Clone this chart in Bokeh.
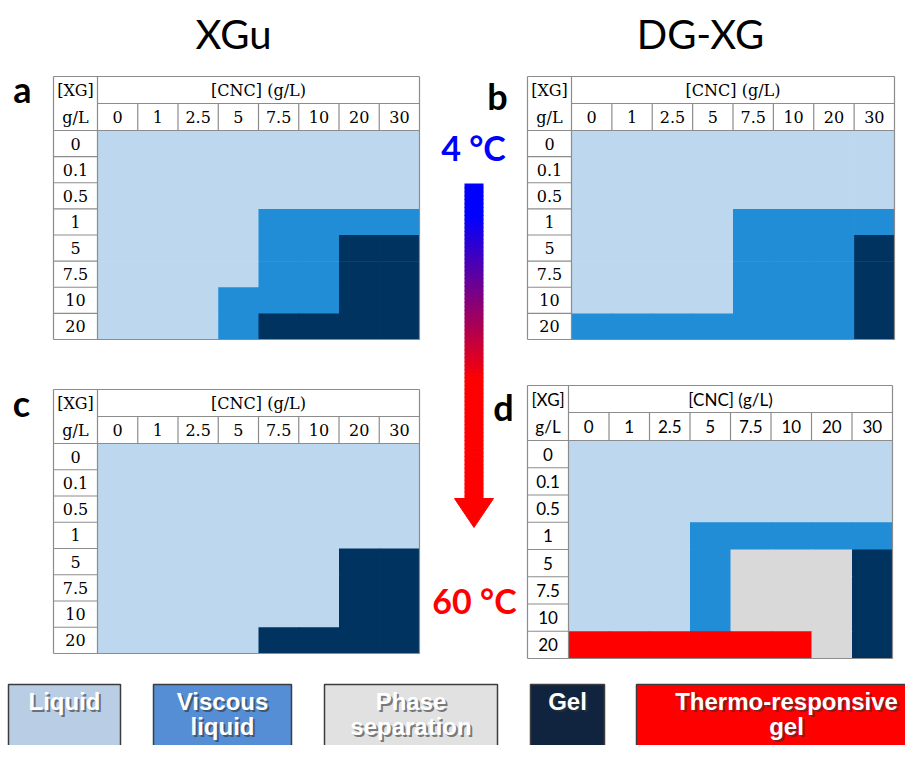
from bokeh.plotting import figure
from bokeh.models import Range1d
from bokeh.core.properties import value
from bokeh.embed import file_html
from bokeh.resources import INLINE

# ---------------- data ----------------
cnc_labels = ["0", "1", "2.5", "5", "7.5", "10", "20", "30"]
xg_labels = ["0", "0.1", "0.5", "1", "5", "7.5", "10", "20"]

# state codes per cell (rows = [XG], columns = [CNC])
# L liquid, V viscous liquid, P phase separation, G gel, T thermo-responsive gel
xgu_4C = ["LLLLLLLL", "LLLLLLLL", "LLLLLLLL", "LLLLVVVV",
          "LLLLVVGG", "LLLLVVGG", "LLLVVVGG", "LLLVGGGG"]
dgxg_4C = ["LLLLLLLL", "LLLLLLLL", "LLLLLLLL", "LLLLVVVV",
           "LLLLVVVG", "LLLLVVVG", "LLLLVVVG", "VVVVVVVG"]
xgu_60C = ["LLLLLLLL", "LLLLLLLL", "LLLLLLLL", "LLLLLLLL",
           "LLLLLLGG", "LLLLLLGG", "LLLLLLGG", "LLLLGGGG"]
dgxg_60C = ["LLLLLLLL", "LLLLLLLL", "LLLLLLLL", "LLLVVVVV",
            "LLLVPPPG", "LLLVPPPG", "LLLVPPPG", "TTTTTTPG"]

legend_codes = ["L", "V", "P", "G", "T"]
legend_lines = [["Liquid"], ["Viscous", "liquid"], ["Phase", "separation"],
                ["Gel"], ["Thermo-responsive", "gel"]]

titles = ["XGu", "DG-XG"]
temps = ["4 °C", "60 °C"]

# ---------------- styles ----------------
cell_colors = {"L": "#BDD7EE", "V": "#208DD6", "P": "#D9D9D9", "G": "#00335F", "T": "#FF0000"}
legend_colors = {"L": "#B9CDE5", "V": "#558ED5", "P": "#E1E1E1", "G": "#10243F", "T": "#FF0000"}
grid_color = "#8C8C8C"

# panel geometry: left, colstart, right, top, h1, h2, bottom
panels = [
    ("a", xgu_4C, (53, 97, 419, 76, 103, 130, 339), "DejaVu Serif", "16px", (22, 88)),
    ("b", dgxg_4C, (527, 571, 894, 76, 103, 130, 339), "DejaVu Serif", "16px", (497, 95)),
    ("c", xgu_60C, (53, 97, 419, 389, 416, 443, 653), "DejaVu Serif", "16px", (21, 402)),
    ("d", dgxg_60C, (527, 568, 892, 385, 412, 440, 658), "Lato", "17px", (503, 406)),
]

W, H = 905, 745
p = figure(width=W, height=H, output_backend="svg", toolbar_location=None,
           x_range=Range1d(0, W), y_range=Range1d(H, 0),
           x_axis_type=None, y_axis_type=None, min_border=0)
p.outline_line_color = None
p.background_fill_color = "white"
p.border_fill_color = "white"

# titles
p.text(x=[233, 700], y=[33, 33], text=titles, text_font=value("Lato"),
       text_font_size="40px", text_align="center", text_baseline="middle", text_color="black")

for letter, states, geo, font, fsize, lpos in panels:
    left, cs, right, top, h1, h2, bottom = geo
    nc, nr = len(cnc_labels), len(xg_labels)
    cw = (right - cs) / nc
    rh = (bottom - h2) / nr
    # data cells (slightly overlapping to avoid seams)
    xs0, xs1, ys0, ys1, cols = [], [], [], [], []
    for i, row in enumerate(states):
        for j, code in enumerate(row):
            xs0.append(cs + j * cw)
            xs1.append(min(right, cs + (j + 1) * cw + 0.7))
            ys0.append(h2 + i * rh)
            ys1.append(min(bottom, h2 + (i + 1) * rh + 0.7))
            cols.append(cell_colors[code])
    p.quad(left=xs0, right=xs1, top=ys0, bottom=ys1, fill_color=cols, line_color=None)

    # grid lines
    sx0, sy0, sx1, sy1 = [], [], [], []
    def seg(a, b, c, d):
        sx0.append(a); sy0.append(b); sx1.append(c); sy1.append(d)
    seg(left, top, right, top)
    seg(left, bottom, right, bottom)
    seg(left, top, left, bottom)
    seg(right, top, right, bottom)
    seg(cs, top, cs, bottom)
    seg(cs, h1, right, h1)
    seg(left, h2, right, h2)
    for j in range(1, nc):
        seg(cs + j * cw, h1, cs + j * cw, h2)
    for i in range(1, nr):
        seg(left, h2 + i * rh, cs, h2 + i * rh)
    p.segment(x0=sx0, y0=sy0, x1=sx1, y1=sy1, line_color=grid_color, line_width=1.2)

    # texts
    tx, ty, tt = [], [], []
    tx += [(left + cs) / 2, (left + cs) / 2, (cs + right) / 2]
    ty += [(top + h1) / 2, (h1 + h2) / 2, (top + h1) / 2]
    tt += ["[XG]", "g/L", "[CNC] (g/L)"]
    for j, lab in enumerate(cnc_labels):
        tx.append(cs + (j + 0.5) * cw); ty.append((h1 + h2) / 2); tt.append(lab)
    for i, lab in enumerate(xg_labels):
        tx.append((left + cs) / 2); ty.append(h2 + (i + 0.5) * rh); tt.append(lab)
    p.text(x=tx, y=ty, text=tt, text_font=value(font), text_font_size=fsize,
           text_align="center", text_baseline="middle", text_color="black")

    # panel letter
    p.text(x=[lpos[0]], y=[lpos[1]], text=[letter], text_font=value("Lato"),
           text_font_style="bold", text_font_size="36px", text_align="center",
           text_baseline="middle", text_color="black")

# temperature labels
p.text(x=[473, 474], y=[147, 600], text=temps, text_font=value("Lato"),
       text_font_style="bold", text_font_size="34px", text_align="center",
       text_baseline="middle", text_color=["#0000FF", "#FF0000"])

# gradient arrow
def mix(t):
    r = int(round(255 * t)); b = int(round(255 * (1 - t)))
    return "#%02X00%02X" % (r, b)

y_top, y_end = 183, 499
n = 80
gx0, gx1, gy0, gy1, gc = [], [], [], [], []
for k in range(n):
    a = y_top + (y_end - y_top) * k / n
    b = y_top + (y_end - y_top) * (k + 1) / n
    m = (a + b) / 2
    t = min(1.0, max(0.0, (m - 215) / (380 - 215)))
    gx0.append(464); gx1.append(483); gy0.append(a); gy1.append(b + 0.8); gc.append(mix(t))
p.quad(left=gx0, right=gx1, top=gy0, bottom=gy1, fill_color=gc, line_color=None)
p.patch(x=[454, 493, 473.5], y=[498, 498, 527], fill_color="#FF0000", line_color="#FF0000")

# legend boxes
box_l = [8, 153, 324, 530, 636]
box_r = [120, 291, 497, 604, 930]
box_top, box_bot = 684, 770
p.quad(left=box_l, right=box_r, top=[box_top] * 5, bottom=[box_bot] * 5,
       fill_color=[legend_colors[c] for c in legend_codes], line_color="#3C3C3C", line_width=1.5)
lx, ly, lt = [], [], []
for k, lines in enumerate(legend_lines):
    cx = (box_l[k] + min(box_r[k], 921)) / 2
    for r, s in enumerate(lines):
        lx.append(cx); ly.append(701 + 25 * r); lt.append(s)
lx[lt.index("Thermo-responsive")] = 786
lx[lt.index("gel")] = 786
p.text(x=[v + 2 for v in lx], y=[v + 2 for v in ly], text=lt, text_font=value("Liberation Sans"),
       text_font_style="bold", text_font_size="24px", text_align="center", text_baseline="middle",
       text_color="#333333", text_alpha=0.6)
p.text(x=lx, y=ly, text=lt, text_font=value("Liberation Sans"),
       text_font_style="bold", text_font_size="24px", text_align="center", text_baseline="middle",
       text_color="white")

open("out.html", "w").write(file_html(p, INLINE))
